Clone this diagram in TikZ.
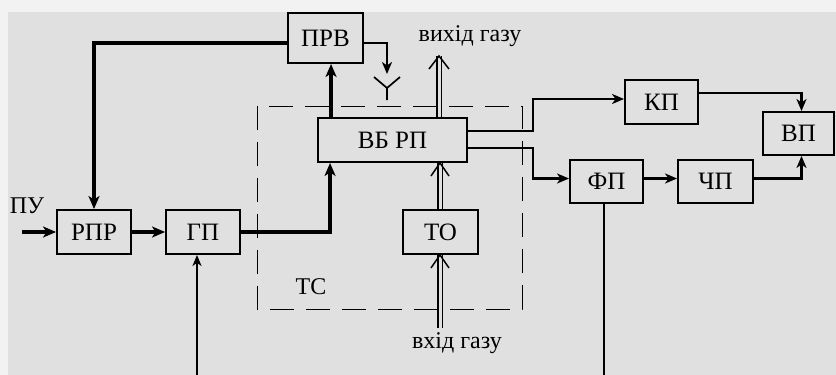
\documentclass[tikz,border=0pt]{standalone}
\usepackage{fontspec}
\setmainfont{Liberation Serif}
\usetikzlibrary{arrows.meta,calc}
\definecolor{bg}{gray}{0.88}
\definecolor{bgl}{gray}{0.95}
\tikzset{
  blk/.style={draw=black, line width=1.9pt, inner sep=0pt, font=\fontsize{25}{27}\selectfont},
  lbl/.style={inner sep=0pt, font=\fontsize{24}{26}\selectfont},
  thk/.style={line width=3.2pt, -{Stealth[length=13pt,width=11pt,inset=3.5pt]}},
  med/.style={line width=2.1pt, -{Stealth[length=12pt,width=10pt,inset=3.5pt]}},
  thn/.style={line width=1.6pt},
  dbl/.style={line width=1.5pt, double=bg, double distance=3pt},
  vhead/.style={line width=1.5pt, line join=miter},
  frame/.style={line width=1pt, dash pattern=on 24pt off 12pt},
}
\begin{document}
\begin{tikzpicture}[x=1pt,y=-1pt]
\useasboundingbox (0,0) rectangle (836,375);
\fill[bg] (0,0) rectangle (836,375);
\fill[bgl] (0,0) rectangle (836,12);
\fill[bgl] (0,12) rectangle (8,375);

% boxes
\node[blk, minimum width=75pt, minimum height=50pt] (prv) at (325.5,38) {ПРВ};
\node[blk, minimum width=74pt, minimum height=44pt] (rpr) at (94,232) {РПР};
\node[blk, minimum width=74pt, minimum height=44pt] (gp) at (203,232) {ГП};
\node[blk, minimum width=149pt, minimum height=44pt] (vb) at (392.5,140) {ВБ РП};
\node[blk, minimum width=75pt, minimum height=44pt] (to) at (440.5,232) {ТО};
\node[blk, minimum width=73pt, minimum height=44pt] (kp) at (661.5,102) {КП};
\node[blk, minimum width=73pt, minimum height=43pt] (fp) at (606.5,181.5) {ФП};
\node[blk, minimum width=75pt, minimum height=43pt] (chp) at (715.5,181.5) {ЧП};
\node[blk, minimum width=71pt, minimum height=43pt] (vp) at (798.5,133.5) {ВП};

% labels
\node[lbl] (pu) at (27,206) {ПУ};
\node[lbl] (ts) at (311,287) {ТС};
\node[lbl] (out) at (470,36) {вихід газу};
\node[lbl] (in) at (457,343) {вхід газу};

% dashed frame
\draw[frame] (257,106) rectangle (522,309);

% coordinates
\coordinate (puin) at (22,232);
\coordinate (ant) at (387,74);
\coordinate (antc) at (387,88);
\coordinate (antl) at (374,77);
\coordinate (antr) at (400,77);
\coordinate (antb) at (387,100);
\coordinate (gpin) at (197,375);
\coordinate (fpout) at (604,375);
\coordinate (outtip) at (439,56);
\coordinate (intail) at (440,328);
\coordinate (tip2) at (vb.south -| intail);
\coordinate (tip3) at (to.south -| intail);
\coordinate (bus1) at (533,131);
\coordinate (bus2) at (533,148);

% thick paths
\draw[thk] ($(prv.west)+(0,5)$) -| (rpr.north);
\draw[thk] (puin) -- (rpr.west);
\draw[thk] (rpr.east) -- (gp.west);
\draw[thk] (gp.east) -| ($(vb.south west)+(13,0)$);
\draw[thk] ($(vb.north west)+(14,0)$) -- ($(prv.south west)+(44,0)$);

% antenna
\draw[med] ($(prv.east)+(0,5)$) -| (ant);
\draw[thn, line width=1.7pt] (antl) -- (antc) -- (antr) (antc) -- (antb);

% gas: double lines with open heads
\draw[dbl] (vb.north -| outtip) -- (outtip);
\draw[vhead] ($(outtip)+(-10,13)$) -- (outtip) -- ($(outtip)+(10,13)$);
\draw[dbl] (to.north -| intail) -- (tip2);
\draw[vhead] ($(tip2)+(-9,13)$) -- (tip2) -- ($(tip2)+(9,13)$);
\draw[dbl] (intail) -- (tip3);
\draw[vhead] ($(tip3)+(-9,13)$) -- (tip3) -- ($(tip3)+(9,13)$);

% right part
\draw[med] ($(vb.east)+(0,-9)$) -- (bus1) |- ($(kp.west)+(0,-3)$);
\draw[med] ($(vb.east)+(0,8)$) -- (bus2) |- ($(fp.west)+(0,-3)$);
\draw[med] ($(fp.east)+(0,-3)$) -- ($(chp.west)+(0,-3)$);
\draw[med] ($(kp.east)+(0,-9)$) -| ($(vp.north)+(3,0)$);
\draw[med] ($(chp.east)+(0,-3)$) -| ($(vp.south)+(3,0)$);

% thin lines
\draw[thn, -{Stealth[length=11pt,width=9pt,inset=3pt]}] (gpin) -- (gpin |- gp.south);
\draw[thn] (fp.south -| fpout) -- (fpout);
\end{tikzpicture}
\end{document}
